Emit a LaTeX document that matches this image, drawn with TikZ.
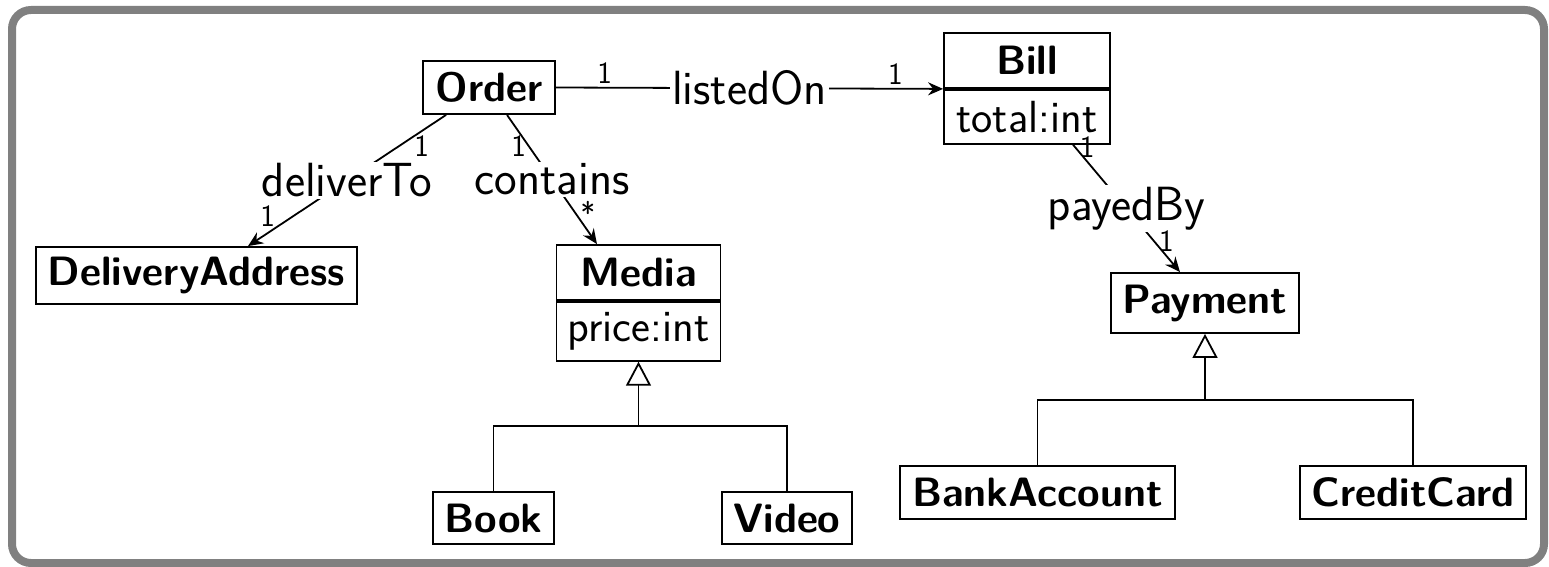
\documentclass[tikz,border=0pt]{standalone}
\usepackage{fontspec}
\usetikzlibrary{arrows.meta,calc}
\begin{document}
\begin{tikzpicture}[x=1pt,y=-1pt,
  cls/.style={draw, line width=1.8pt, inner sep=0pt, font=\sffamily\bfseries\fontsize{41}{43}\selectfont},
  attr/.style={draw, line width=1.8pt, inner sep=0pt, font=\sffamily\fontsize{45}{47}\selectfont},
  assoc/.style={line width=1.8pt, -{Stealth[length=15pt,width=13pt,inset=5pt]}},
  lbl/.style={fill=white, inner sep=2pt, font=\sffamily\fontsize{48}{50}\selectfont},
  mult/.style={inner sep=1pt, font=\sffamily\fontsize{31}{33}\selectfont},
  inh/.style={line width=1.8pt},
  gen/.style={line width=1.8pt, -{Triangle[open,length=24pt,width=25pt]}},
]
\useasboundingbox[fill=white] (0,0) rectangle (1549,567);
\draw[line width=8pt, draw=gray, rounded corners=19pt] (12,10) rectangle (1544,563);

% classes
\node[cls, minimum width=132pt, minimum height=53pt] (order) at (489,87.5) {Order};
\node[cls, minimum width=166pt, minimum height=55pt] (billt) at (1027,60.5) {Bill};
\node[attr, minimum width=166pt, minimum height=54pt, anchor=north] (billa) at (billt.south) {total:int};
\node[cls, minimum width=321pt, minimum height=57pt] (da) at (196.5,275.5) {DeliveryAddress};
\node[cls, minimum width=164pt, minimum height=55pt] (mediat) at (638.5,272.5) {Media};
\node[attr, minimum width=164pt, minimum height=59pt, anchor=north] (mediaa) at (mediat.south) {price:int};
\node[cls, minimum width=188pt, minimum height=60pt] (payment) at (1205,303) {Payment};
\node[cls, minimum width=121pt, minimum height=52pt] (book) at (493.5,518) {Book};
\node[cls, minimum width=130pt, minimum height=52pt] (video) at (787,518) {Video};
\node[cls, minimum width=275pt, minimum height=53pt] (bank) at (1037.5,492.5) {BankAccount};
\node[cls, minimum width=226pt, minimum height=53pt] (credit) at (1413,492.5) {CreditCard};

% associations
\draw[assoc] (order.east) -- (billt.south west)
  node[lbl, midway] {listedOn}
  node[mult, pos=0.126, yshift=15pt] {1}
  node[mult, pos=0.877, yshift=15pt] {1};
\draw[assoc] ([xshift=24pt]order.south west) -- ([xshift=51.5pt]da.north)
  node[lbl, midway] {deliverTo}
  node[mult, pos=0.24, xshift=23pt] {1}
  node[mult, pos=0.77, xshift=-26pt] {1};
\draw[assoc] ([xshift=18pt]order.south) -- ([xshift=-41.5pt]mediat.north)
  node[lbl, midway] {contains}
  node[mult, pos=0.24, xshift=-10pt] {1}
  node[mult, pos=0.72, xshift=16pt, yshift=-5pt] {*};
\draw[assoc] ([xshift=46pt]billa.south) -- ([xshift=-25pt]payment.north)
  node[lbl, midway] {payedBy}
  node[mult, pos=0.02, xshift=12pt] {1}
  node[mult, pos=0.76, xshift=12pt] {1};

% generalisations
\coordinate (mj) at (mediaa.south |- 0,426);
\draw[inh] (book.north) |- (mj) -| (video.north);
\draw[gen] (mj) -- (mediaa.south);
\coordinate (pj) at (payment.south |- 0,400);
\draw[inh] (bank.north) |- (pj) -| (credit.north);
\draw[gen] (pj) -- (payment.south);
\end{tikzpicture}
\end{document}
